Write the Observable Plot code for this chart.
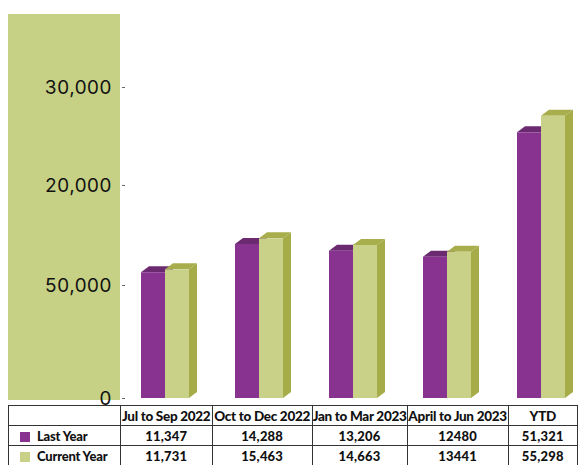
<!DOCTYPE html>
<html><head><meta charset="utf-8">
<script src="https://cdn.jsdelivr.net/npm/d3@7"></script>
<script src="https://cdn.jsdelivr.net/npm/@observablehq/plot@0.6"></script>
<style>
html,body{margin:0;padding:0;background:#fff;}
#wrap{position:relative;width:578px;height:465px;overflow:hidden;}
#panel{position:absolute;left:8px;top:14px;width:112px;height:386px;background:#c7d186;}
#chart{position:absolute;left:0;top:0;}
#tbl{position:absolute;left:8px;top:405px;border-collapse:collapse;table-layout:fixed;font-family:Lato,"Open Sans",sans-serif;font-weight:900;color:#111;}
#tbl td{border:1.5px solid #333;height:19px;padding:0;text-align:center;white-space:nowrap;overflow:hidden;}
#tbl td.h{font-size:13.5px;letter-spacing:-0.3px;}
#tbl td.v{font-size:13px;letter-spacing:0.2px;}
#tbl td.lab{text-align:left;font-size:13px;letter-spacing:-0.2px;}
.sq{display:inline-block;width:10px;height:10px;margin-left:11px;margin-right:7px;vertical-align:-1px;}
</style>
</head><body>
<div id="wrap"><div id="panel"></div><div id="chart"></div><table id="tbl"></table></div>
<script>
const categories = ["Jul to Sep 2022","Oct to Dec 2022","Jan to Mar 2023","April to Jun 2023","YTD"];
const seriesNames = ["Last Year","Current Year"];
const lastYearTable = ["11,347","14,288","13,206","12480","51,321"];
const currentYearTable = ["11,731","15,463","14,663","13441","55,298"];
// bar heights as drawn in the picture (axis units)
const lastYearBars = [12130, 14860, 14210, 13630, 25630];
const currentYearBars = [12410, 15400, 14760, 14110, 27230];
const yTickValues = [0, 10900, 20550, 30000];
const yTickLabels = ["0","50,000","20,000","30,000"];

const colors = {last:"#87338f", lastTop:"#6b2a70", current:"#c8d187", currentTop:"#a7ae4b", currentSide:"#a5ac48"};
const DX = 8, DY = 6;

const rows = categories.map((c,i)=>({category:c, last:lastYearBars[i], current:currentYearBars[i]}));

function faces(key, half, topColor, sideColor) {
  return (index, scales) => {
    const g = d3.create("svg:g");
    const bw = scales.x.bandwidth();
    for (const r of rows) {
      const x1 = scales.x(r.category) + half * bw / 2;
      const x2 = x1 + bw / 2;
      const yt = scales.y(r[key]), yb = scales.y(0);
      g.append("path").attr("d", `M${x1},${yt}L${x1+DX},${yt-DY}L${x2+DX},${yt-DY}L${x2},${yt}Z`).attr("fill", topColor);
      g.append("path").attr("d", `M${x2},${yt}L${x2+DX},${yt-DY}L${x2+DX},${yb-DY}L${x2},${yb}Z`).attr("fill", sideColor);
    }
    return g.node();
  };
}

const plot = Plot.plot({
  width: 578, height: 403,
  marginLeft: 125, marginRight: 0, marginTop: 0, marginBottom: 0,
  style: {fontFamily: "Inter, Lato, sans-serif", fontSize: "19px", color: "#1a1a1a", background: "transparent", overflow: "visible"},
  x: {type: "band", domain: categories, range: [139, 566], paddingInner: 0.4937, paddingOuter: 0, axis: null},
  y: {domain: [0, 30000], range: [398, 87], axis: null},
  marks: [
    faces("last", 0, colors.lastTop, colors.lastTop),
    Plot.barY(rows, {x: "category", y: "last", fill: colors.last, insetRight: 24}),
    faces("current", 1, colors.currentTop, colors.currentSide),
    Plot.barY(rows, {x: "category", y: "current", fill: colors.current, insetLeft: 24}),
    Plot.axisY({ticks: yTickValues, tickFormat: (d, i) => yTickLabels[i], tickSize: 3, tickPadding: 11, stroke: "#666", fill: "#111", fontWeight: 400})
  ]
});
document.getElementById("chart").append(plot);

const tbl = document.getElementById("tbl");
const widths = [112, 92, 100, 95, 101, 70];
const cg = document.createElement("colgroup");
widths.forEach(w => { const c = document.createElement("col"); c.style.width = w + "px"; cg.append(c); });
tbl.append(cg);
const hr = tbl.insertRow();
hr.insertCell().className = "h";
categories.forEach(c => { const td = hr.insertCell(); td.className = "h"; td.textContent = c; });
[[seriesNames[0], colors.last, lastYearTable],[seriesNames[1], colors.current, currentYearTable]].forEach(([name, col, vals]) => {
  const tr = tbl.insertRow();
  const l = tr.insertCell(); l.className = "lab";
  const sq = document.createElement("span"); sq.className = "sq"; sq.style.background = col;
  l.append(sq, document.createTextNode(name));
  vals.forEach(v => { const td = tr.insertCell(); td.className = "v"; td.textContent = v; });
});
</script>
</body></html>
